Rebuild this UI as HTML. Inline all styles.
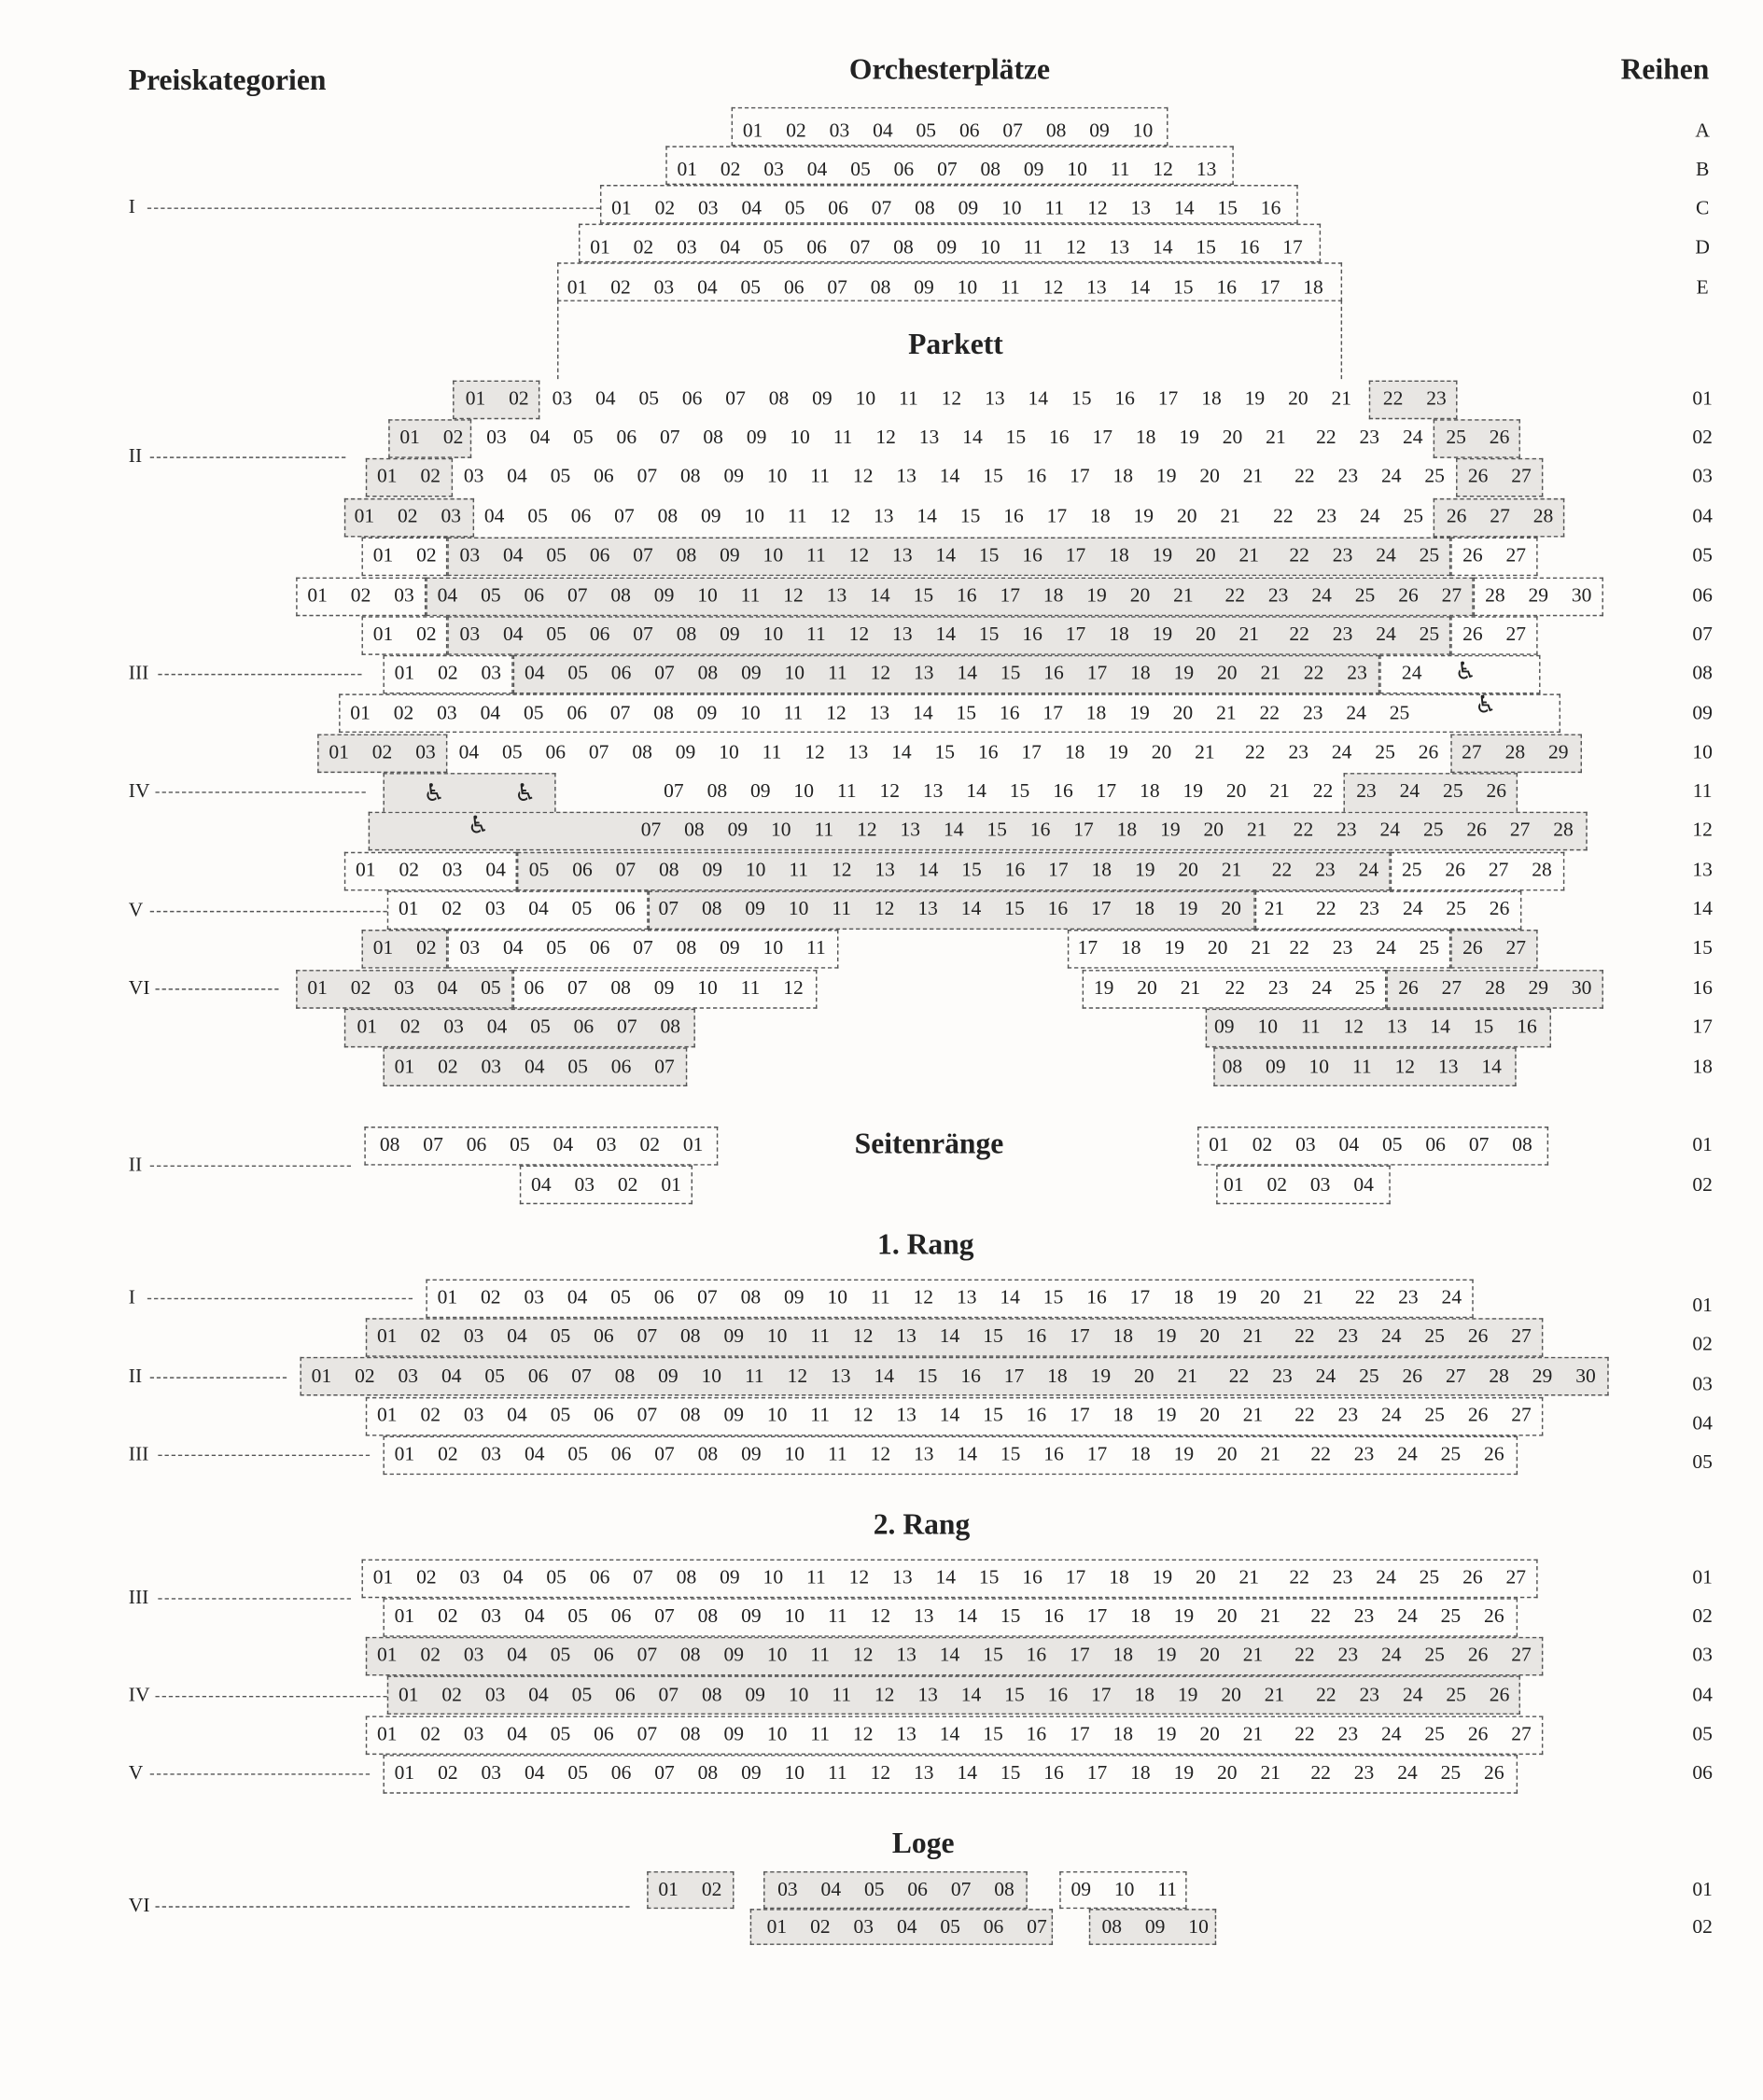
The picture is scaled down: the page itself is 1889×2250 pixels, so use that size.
<!DOCTYPE html>
<html><head><meta charset="utf-8"><style>
html,body{margin:0;padding:0;background:#fdfcfa;}
#c{position:relative;width:1316px;height:1568px;transform:scale(1.4352,1.4352);transform-origin:0 0;font-family:"Liberation Serif",serif;color:#222;overflow:hidden}
.r{position:absolute;font-size:15px;line-height:20px;word-spacing:13.6px;white-space:pre}
.b{position:absolute;box-sizing:border-box;border:1px dashed #555;height:29px}
.g{background:#e8e6e3}
.w{background:#fdfcfa}
.t{position:absolute;font-size:22px;font-weight:bold;line-height:26px;white-space:nowrap}
.k{position:absolute;font-size:15px;line-height:20px;width:30px;text-align:center;margin-left:-15px}
.c{position:absolute;font-size:15px;line-height:20px;left:96px}
.l{position:absolute;border-top:1px dashed #555;height:0}
.h{position:absolute;font-family:"DejaVu Sans",sans-serif;font-size:18px;line-height:20px;margin-left:-9px}
</style></head><body><div id="c">
<div class="t" style="left:96px;top:47px">Preiskategorien</div>
<div class="t" style="left:634px;top:39px">Orchesterplätze</div>
<div class="t" style="left:1210px;top:39px">Reihen</div>
<div class="t" style="left:678px;top:244px">Parkett</div>
<div class="t" style="left:638px;top:841px">Seitenränge</div>
<div class="t" style="left:655px;top:916px">1. Rang</div>
<div class="t" style="left:652px;top:1125px">2. Rang</div>
<div class="t" style="left:666px;top:1363px">Loge</div>

<div class="b w" style="left:546px;top:80px;width:326px"></div>
<div class="b w" style="left:497px;top:109px;width:424px"></div>
<div class="b w" style="left:448px;top:138px;width:521px"></div>
<div class="b w" style="left:432px;top:167px;width:554px"></div>
<div class="b w" style="left:416px;top:196px;width:586px"></div>
<div style="position:absolute;left:416px;top:224px;height:59px;border-left:1px dashed #555"></div>
<div style="position:absolute;left:1001px;top:224px;height:59px;border-left:1px dashed #555"></div>
<div class="r" style="left:554.5px;top:88px">01 02 03 04 05 06 07 08 09 10</div>
<div class="r" style="left:505.5px;top:117px">01 02 03 04 05 06 07 08 09 10 11 12 13</div>
<div class="r" style="left:456.5px;top:146px">01 02 03 04 05 06 07 08 09 10 11 12 13 14 15 16</div>
<div class="r" style="left:440.5px;top:175px">01 02 03 04 05 06 07 08 09 10 11 12 13 14 15 16 17</div>
<div class="r" style="left:423.5px;top:205px">01 02 03 04 05 06 07 08 09 10 11 12 13 14 15 16 17 18</div>

<div class="b g" style="left:338px;top:284px;width:65px"></div>
<div class="b g" style="left:1022px;top:284px;width:66px"></div>
<div class="b g" style="left:290px;top:313px;width:62px"></div>
<div class="b g" style="left:1070px;top:313px;width:65px"></div>
<div class="b g" style="left:273px;top:342px;width:65px"></div>
<div class="b g" style="left:1087px;top:342px;width:65px"></div>
<div class="b g" style="left:257px;top:372px;width:97px"></div>
<div class="b g" style="left:1070px;top:372px;width:98px"></div>
<div class="b w" style="left:270px;top:401px;width:64px"></div>
<div class="b g" style="left:334px;top:401px;width:749px"></div>
<div class="b w" style="left:1083px;top:401px;width:65px"></div>
<div class="b w" style="left:221px;top:431px;width:97px"></div>
<div class="b g" style="left:318px;top:431px;width:782px"></div>
<div class="b w" style="left:1100px;top:431px;width:97px"></div>
<div class="b w" style="left:270px;top:460px;width:64px"></div>
<div class="b g" style="left:334px;top:460px;width:749px"></div>
<div class="b w" style="left:1083px;top:460px;width:65px"></div>
<div class="b w" style="left:286px;top:489px;width:97px"></div>
<div class="b g" style="left:383px;top:489px;width:647px"></div>
<div class="b w" style="left:1030px;top:489px;width:120px"></div>
<div class="b w" style="left:253px;top:518px;width:912px"></div>
<div class="b g" style="left:237px;top:548px;width:97px"></div>
<div class="b g" style="left:1083px;top:548px;width:98px"></div>
<div class="b g" style="left:275px;top:606px;width:910px"></div>
<div class="b g" style="left:286px;top:577px;width:129px;border-bottom:none"></div>
<div class="b g" style="left:1003px;top:577px;width:130px;border-bottom:none"></div>
<div class="b w" style="left:257px;top:636px;width:129px"></div>
<div class="b g" style="left:386px;top:636px;width:652px"></div>
<div class="b w" style="left:1038px;top:636px;width:130px"></div>
<div class="b w" style="left:289px;top:665px;width:195px"></div>
<div class="b g" style="left:484px;top:665px;width:453px"></div>
<div class="b w" style="left:937px;top:665px;width:199px"></div>
<div class="b g" style="left:270px;top:694px;width:64px"></div>
<div class="b w" style="left:334px;top:694px;width:292px"></div>
<div class="b w" style="left:797px;top:694px;width:286px"></div>
<div class="b g" style="left:1083px;top:694px;width:65px"></div>
<div class="b g" style="left:221px;top:724px;width:162px"></div>
<div class="b w" style="left:383px;top:724px;width:227px"></div>
<div class="b w" style="left:808px;top:724px;width:227px"></div>
<div class="b g" style="left:1035px;top:724px;width:162px"></div>
<div class="b g" style="left:257px;top:753px;width:262px"></div>
<div class="b g" style="left:900px;top:753px;width:258px"></div>
<div class="b g" style="left:286px;top:782px;width:227px"></div>
<div class="b g" style="left:906px;top:782px;width:226px"></div>

<div class="r" style="left:347.5px;top:288px">01 02 03 04 05 06 07 08 09 10 11 12 13 14 15 16 17 18 19 20 21</div>
<div class="r" style="left:1032.5px;top:288px">22 23</div>
<div class="r" style="left:298.5px;top:317px">01 02 03 04 05 06 07 08 09 10 11 12 13 14 15 16 17 18 19 20 21</div>
<div class="r" style="left:982.5px;top:317px">22 23 24 25 26</div>
<div class="r" style="left:281.5px;top:346px">01 02 03 04 05 06 07 08 09 10 11 12 13 14 15 16 17 18 19 20 21</div>
<div class="r" style="left:966.5px;top:346px">22 23 24 25 26 27</div>
<div class="r" style="left:264.5px;top:376px">01 02 03 04 05 06 07 08 09 10 11 12 13 14 15 16 17 18 19 20 21</div>
<div class="r" style="left:950.5px;top:376px">22 23 24 25 26 27 28</div>
<div class="r" style="left:278.5px;top:405px">01 02 03 04 05 06 07 08 09 10 11 12 13 14 15 16 17 18 19 20 21</div>
<div class="r" style="left:962.5px;top:405px">22 23 24 25 26 27</div>
<div class="r" style="left:229.5px;top:435px">01 02 03 04 05 06 07 08 09 10 11 12 13 14 15 16 17 18 19 20 21</div>
<div class="r" style="left:914.5px;top:435px">22 23 24 25 26 27 28 29 30</div>
<div class="r" style="left:278.5px;top:464px">01 02 03 04 05 06 07 08 09 10 11 12 13 14 15 16 17 18 19 20 21</div>
<div class="r" style="left:962.5px;top:464px">22 23 24 25 26 27</div>
<div class="r" style="left:294.5px;top:493px">01 02 03 04 05 06 07 08 09 10 11 12 13 14 15 16 17 18 19 20 21 22 23</div>
<div class="r" style="left:1046.5px;top:493px">24</div>
<div class="h" style="left:1095px;top:492px">♿</div>
<div class="r" style="left:261.5px;top:523px">01 02 03 04 05 06 07 08 09 10 11 12 13 14 15 16 17 18 19 20 21 22 23 24 25</div>
<div class="h" style="left:1110px;top:517px">♿</div>
<div class="r" style="left:245.5px;top:552px">01 02 03 04 05 06 07 08 09 10 11 12 13 14 15 16 17 18 19 20 21</div>
<div class="r" style="left:929.5px;top:552px">22 23 24 25 26 27 28 29</div>
<div class="r" style="left:495.5px;top:581px">07 08 09 10 11 12 13 14 15 16 17 18 19 20 21 22 23 24 25 26</div>
<div class="h" style="left:325px;top:583px">♿</div>
<div class="h" style="left:393px;top:583px">♿</div>
<div class="h" style="left:358px;top:607px">♿</div>
<div class="r" style="left:478.5px;top:610px">07 08 09 10 11 12 13 14 15 16 17 18 19 20 21</div>
<div class="r" style="left:965.5px;top:610px">22 23 24 25 26 27 28</div>
<div class="r" style="left:265.5px;top:640px">01 02 03 04 05 06 07 08 09 10 11 12 13 14 15 16 17 18 19 20 21</div>
<div class="r" style="left:949.5px;top:640px">22 23 24 25 26 27 28</div>
<div class="r" style="left:297.5px;top:669px">01 02 03 04 05 06 07 08 09 10 11 12 13 14 15 16 17 18 19 20 21</div>
<div class="r" style="left:982.5px;top:669px">22 23 24 25 26</div>
<div class="r" style="left:278.5px;top:698px">01 02 03 04 05 06 07 08 09 10 11</div>
<div class="r" style="left:804.5px;top:698px">17 18 19 20 21</div>
<div class="r" style="left:962.5px;top:698px">22 23 24 25 26 27</div>
<div class="r" style="left:229.5px;top:728px">01 02 03 04 05 06 07 08 09 10 11 12</div>
<div class="r" style="left:816.5px;top:728px">19 20 21</div>
<div class="r" style="left:914.5px;top:728px">22 23 24 25 26 27 28 29 30</div>
<div class="r" style="left:266.5px;top:757px">01 02 03 04 05 06 07 08</div>
<div class="r" style="left:906.5px;top:757px">09 10 11 12 13 14 15 16</div>
<div class="r" style="left:294.5px;top:787px">01 02 03 04 05 06 07</div>
<div class="r" style="left:912.5px;top:787px">08 09 10 11 12 13 14</div>

<div class="b w" style="left:272px;top:841px;width:264px"></div>
<div class="b w" style="left:388px;top:870px;width:129px"></div>
<div class="b w" style="left:894px;top:841px;width:262px"></div>
<div class="b w" style="left:908px;top:870px;width:130px"></div>
<div class="r" style="left:283.5px;top:845px">08 07 06 05 04 03 02 01</div>
<div class="r" style="left:396.5px;top:875px">04 03 02 01</div>
<div class="r" style="left:902.5px;top:845px">01 02 03 04 05 06 07 08</div>
<div class="r" style="left:913.5px;top:875px">01 02 03 04</div>

<div class="b w" style="left:318px;top:955px;width:782px"></div>
<div class="b g" style="left:273px;top:984px;width:879px"></div>
<div class="b g" style="left:224px;top:1013px;width:977px"></div>
<div class="b w" style="left:273px;top:1043px;width:879px"></div>
<div class="b w" style="left:286px;top:1072px;width:847px"></div>
<div class="r" style="left:326.5px;top:959px">01 02 03 04 05 06 07 08 09 10 11 12 13 14 15 16 17 18 19 20 21</div>
<div class="r" style="left:1011.5px;top:959px">22 23 24</div>
<div class="r" style="left:281.5px;top:988px">01 02 03 04 05 06 07 08 09 10 11 12 13 14 15 16 17 18 19 20 21</div>
<div class="r" style="left:966.5px;top:988px">22 23 24 25 26 27</div>
<div class="r" style="left:232.5px;top:1018px">01 02 03 04 05 06 07 08 09 10 11 12 13 14 15 16 17 18 19 20 21</div>
<div class="r" style="left:917.5px;top:1018px">22 23 24 25 26 27 28 29 30</div>
<div class="r" style="left:281.5px;top:1047px">01 02 03 04 05 06 07 08 09 10 11 12 13 14 15 16 17 18 19 20 21</div>
<div class="r" style="left:966.5px;top:1047px">22 23 24 25 26 27</div>
<div class="r" style="left:294.5px;top:1076px">01 02 03 04 05 06 07 08 09 10 11 12 13 14 15 16 17 18 19 20 21</div>
<div class="r" style="left:978.5px;top:1076px">22 23 24 25 26</div>

<div class="b w" style="left:270px;top:1164px;width:878px"></div>
<div class="b w" style="left:286px;top:1193px;width:847px"></div>
<div class="b g" style="left:273px;top:1222px;width:879px"></div>
<div class="b g" style="left:289px;top:1251px;width:846px"></div>
<div class="b w" style="left:273px;top:1281px;width:879px"></div>
<div class="b w" style="left:286px;top:1310px;width:847px"></div>
<div class="r" style="left:278.5px;top:1168px">01 02 03 04 05 06 07 08 09 10 11 12 13 14 15 16 17 18 19 20 21</div>
<div class="r" style="left:962.5px;top:1168px">22 23 24 25 26 27</div>
<div class="r" style="left:294.5px;top:1197px">01 02 03 04 05 06 07 08 09 10 11 12 13 14 15 16 17 18 19 20 21</div>
<div class="r" style="left:978.5px;top:1197px">22 23 24 25 26</div>
<div class="r" style="left:281.5px;top:1226px">01 02 03 04 05 06 07 08 09 10 11 12 13 14 15 16 17 18 19 20 21</div>
<div class="r" style="left:966.5px;top:1226px">22 23 24 25 26 27</div>
<div class="r" style="left:297.5px;top:1256px">01 02 03 04 05 06 07 08 09 10 11 12 13 14 15 16 17 18 19 20 21</div>
<div class="r" style="left:982.5px;top:1256px">22 23 24 25 26</div>
<div class="r" style="left:281.5px;top:1285px">01 02 03 04 05 06 07 08 09 10 11 12 13 14 15 16 17 18 19 20 21</div>
<div class="r" style="left:966.5px;top:1285px">22 23 24 25 26 27</div>
<div class="r" style="left:294.5px;top:1314px">01 02 03 04 05 06 07 08 09 10 11 12 13 14 15 16 17 18 19 20 21</div>
<div class="r" style="left:978.5px;top:1314px">22 23 24 25 26</div>

<div class="b g" style="left:483px;top:1397px;width:65px;height:28px"></div>
<div class="b g" style="left:570px;top:1397px;width:197px;height:28px"></div>
<div class="b w" style="left:791px;top:1397px;width:95px;height:28px"></div>
<div class="b g" style="left:560px;top:1425px;width:226px;height:27px"></div>
<div class="b g" style="left:813px;top:1425px;width:95px;height:27px"></div>
<div class="r" style="left:491.5px;top:1401px">01 02</div>
<div class="r" style="left:580.5px;top:1401px">03 04 05 06 07 08</div>
<div class="r" style="left:799.5px;top:1401px">09 10 11</div>
<div class="r" style="left:572.5px;top:1429px">01 02 03 04 05 06 07</div>
<div class="r" style="left:822.5px;top:1429px">08 09 10</div>

<div class="c" style="top:145px">I</div><div class="l" style="left:110px;top:155px;width:338px"></div>
<div class="c" style="top:331px">II</div><div class="l" style="left:112px;top:341px;width:146px"></div>
<div class="c" style="top:493px">III</div><div class="l" style="left:118px;top:503px;width:152px"></div>
<div class="c" style="top:581px">IV</div><div class="l" style="left:116px;top:591px;width:157px"></div>
<div class="c" style="top:670px">V</div><div class="l" style="left:112px;top:680px;width:177px"></div>
<div class="c" style="top:728px">VI</div><div class="l" style="left:116px;top:738px;width:92px"></div>
<div class="c" style="top:860px">II</div><div class="l" style="left:112px;top:870px;width:150px"></div>
<div class="c" style="top:959px">I</div><div class="l" style="left:110px;top:969px;width:198px"></div>
<div class="c" style="top:1018px">II</div><div class="l" style="left:112px;top:1028px;width:102px"></div>
<div class="c" style="top:1076px">III</div><div class="l" style="left:118px;top:1086px;width:158px"></div>
<div class="c" style="top:1183px">III</div><div class="l" style="left:118px;top:1193px;width:144px"></div>
<div class="c" style="top:1256px">IV</div><div class="l" style="left:116px;top:1266px;width:173px"></div>
<div class="c" style="top:1314px">V</div><div class="l" style="left:112px;top:1324px;width:164px"></div>
<div class="c" style="top:1413px">VI</div><div class="l" style="left:116px;top:1423px;width:354px"></div>

<div class="k" style="left:1271px;top:88px">A</div>
<div class="k" style="left:1271px;top:117px">B</div>
<div class="k" style="left:1271px;top:146px">C</div>
<div class="k" style="left:1271px;top:175px">D</div>
<div class="k" style="left:1271px;top:205px">E</div>
<div class="k" style="left:1271px;top:288px">01</div>
<div class="k" style="left:1271px;top:317px">02</div>
<div class="k" style="left:1271px;top:346px">03</div>
<div class="k" style="left:1271px;top:376px">04</div>
<div class="k" style="left:1271px;top:405px">05</div>
<div class="k" style="left:1271px;top:435px">06</div>
<div class="k" style="left:1271px;top:464px">07</div>
<div class="k" style="left:1271px;top:493px">08</div>
<div class="k" style="left:1271px;top:523px">09</div>
<div class="k" style="left:1271px;top:552px">10</div>
<div class="k" style="left:1271px;top:581px">11</div>
<div class="k" style="left:1271px;top:610px">12</div>
<div class="k" style="left:1271px;top:640px">13</div>
<div class="k" style="left:1271px;top:669px">14</div>
<div class="k" style="left:1271px;top:698px">15</div>
<div class="k" style="left:1271px;top:728px">16</div>
<div class="k" style="left:1271px;top:757px">17</div>
<div class="k" style="left:1271px;top:787px">18</div>
<div class="k" style="left:1271px;top:845px">01</div>
<div class="k" style="left:1271px;top:875px">02</div>
<div class="k" style="left:1271px;top:965px">01</div>
<div class="k" style="left:1271px;top:994px">02</div>
<div class="k" style="left:1271px;top:1024px">03</div>
<div class="k" style="left:1271px;top:1053px">04</div>
<div class="k" style="left:1271px;top:1082px">05</div>
<div class="k" style="left:1271px;top:1168px">01</div>
<div class="k" style="left:1271px;top:1197px">02</div>
<div class="k" style="left:1271px;top:1226px">03</div>
<div class="k" style="left:1271px;top:1256px">04</div>
<div class="k" style="left:1271px;top:1285px">05</div>
<div class="k" style="left:1271px;top:1314px">06</div>
<div class="k" style="left:1271px;top:1401px">01</div>
<div class="k" style="left:1271px;top:1429px">02</div>
</div></body></html>
